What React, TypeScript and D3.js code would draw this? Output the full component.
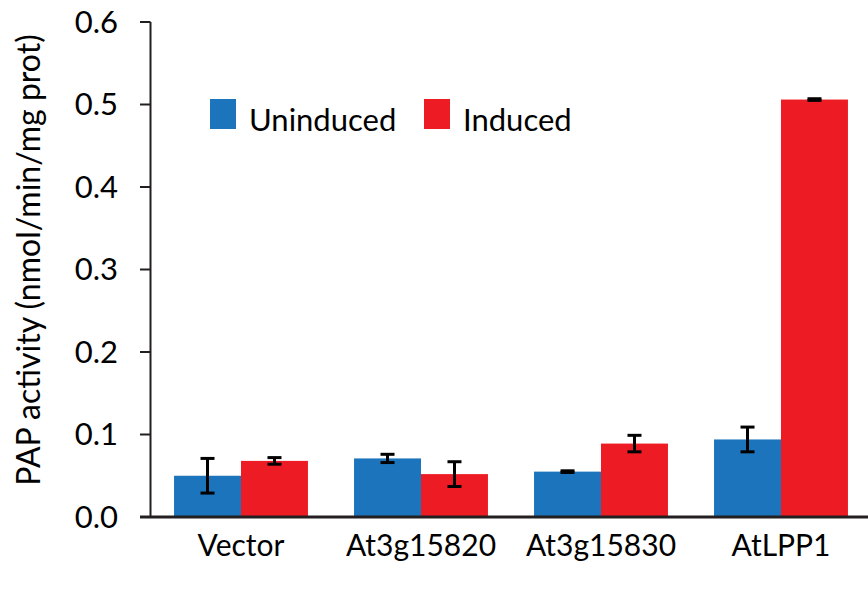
import React from 'react';
import * as d3 from 'd3';

const categories = ['Vector', 'At3g15820', 'At3g15830', 'AtLPP1'];
const seriesNames = ['Uninduced', 'Induced'];
const uninduced = [0.050, 0.071, 0.055, 0.094];
const uninducedErr = [0.021, 0.005, 0.001, 0.015];
const induced = [0.068, 0.052, 0.089, 0.506];
const inducedErr = [0.004, 0.015, 0.010, 0.001];
const yTicks = [0, 0.1, 0.2, 0.3, 0.4, 0.5, 0.6];
const colors = ['#1C75BC', '#ED1C24'];

const W = 868;
const H = 593;
const FONT = 'Lato, sans-serif';

export default function App() {
  const x0 = d3.scaleBand<string>().domain(categories).range([151, 871]).paddingInner(0.256).paddingOuter(0.128);
  const x1 = d3.scaleBand<string>().domain(seriesNames).range([0, x0.bandwidth()]);
  const y = d3.scaleLinear().domain([0, 0.6]).range([517, 22]);

  const rows = categories.map((c, i) => ({
    cat: c,
    vals: [
      { s: seriesNames[0], v: uninduced[i], e: uninducedErr[i] },
      { s: seriesNames[1], v: induced[i], e: inducedErr[i] },
    ],
  }));

  return (
    <svg width={W} height={H} style={{ position: 'absolute', left: 0, top: 0 }} fontFamily={FONT}>
      <rect width={W} height={H} fill="#fff" />
      {rows.map(r => (
        <g key={r.cat} transform={`translate(${x0(r.cat)},0)`}>
          {r.vals.map((d, j) => (
            <rect key={d.s} x={x1(d.s)} y={y(d.v)} width={x1.bandwidth()} height={y(0) - y(d.v)} fill={colors[j]} />
          ))}
          {r.vals.map(d => {
            const cx = (x1(d.s) as number) + x1.bandwidth() / 2;
            return (
              <g key={d.s + 'err'} stroke="#000" strokeWidth={3}>
                <line x1={cx} x2={cx} y1={y(d.v + d.e)} y2={y(d.v - d.e)} />
                <line x1={cx - 7} x2={cx + 7} y1={y(d.v + d.e)} y2={y(d.v + d.e)} />
                <line x1={cx - 7} x2={cx + 7} y1={y(d.v - d.e)} y2={y(d.v - d.e)} />
              </g>
            );
          })}
        </g>
      ))}
      {/* y axis */}
      <line x1={150.5} x2={150.5} y1={y(0.6)} y2={y(0)} stroke="#231F20" strokeWidth={2} />
      {yTicks.map(t => (
        <g key={t}>
          <line x1={140} x2={150.5} y1={y(t)} y2={y(t)} stroke="#231F20" strokeWidth={2} />
          <text x={118} y={y(t)} dy="0.35em" textAnchor="end" fontSize={31} fill="#000">
            {t.toFixed(1)}
          </text>
        </g>
      ))}
      {/* x axis */}
      <line x1={140} x2={868} y1={517} y2={517} stroke="#231F20" strokeWidth={3} />
      {categories.map(c => (
        <text key={c} x={(x0(c) as number) + x0.bandwidth() / 2} y={556} textAnchor="middle" fontSize={30} fill="#000">
          {c}
        </text>
      ))}
      <text transform={`translate(40,260) rotate(-90)`} textAnchor="middle" fontSize={32} fill="#000">
        PAP activity (nmol/min/mg prot)
      </text>
      {/* legend */}
      {seriesNames.map((s, i) => {
        const lx = i === 0 ? 210 : 424;
        return (
          <g key={s}>
            <rect x={lx} y={99} width={26} height={30} fill={colors[i]} />
            <text x={lx + 39} y={131} fontSize={31} fill="#000">{s}</text>
          </g>
        );
      })}
    </svg>
  );
}
